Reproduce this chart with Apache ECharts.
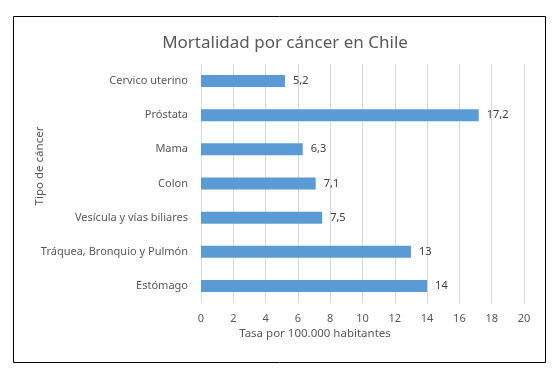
<!DOCTYPE html>
<html>
<head>
<meta charset="utf-8">
<script src="https://cdn.jsdelivr.net/npm/echarts@6/dist/echarts.min.js"></script>
<style>
  html, body { margin: 0; padding: 0; background: #fff; }
  #main { width: 558px; height: 377px; }
</style>
</head>
<body>
<div id="main"></div>
<script>
// datos
var categorias = ['Cervico uterino', 'Próstata', 'Mama', 'Colon', 'Vesícula y vías biliares', 'Tráquea, Bronquio y Pulmón', 'Estómago'];
var tasas = [5.2, 17.2, 6.3, 7.1, 7.5, 13, 14];
var titulo = 'Mortalidad por cáncer en Chile';
var tituloX = 'Tasa por 100.000 habitantes';
var tituloY = 'Tipo de cáncer';

var fuente = '"Noto Sans", sans-serif';
var gris = '#595959';

var chart = echarts.init(document.getElementById('main'));
chart.setOption({
  animation: false,
  textStyle: { fontFamily: fuente },
  title: [{
    text: titulo,
    left: 280,
    top: 30,
    textAlign: 'center',
    textStyle: { fontSize: 17, fontWeight: 'normal', color: gris, fontFamily: fuente }
  }, {
    text: tituloX,
    left: 310,
    top: 323,
    textAlign: 'center',
    textStyle: { fontSize: 11.5, fontWeight: 'normal', color: gris, fontFamily: fuente }
  }],
  graphic: [{
    type: 'rect',
    shape: { x: 13.5, y: 16.5, width: 532, height: 346 },
    style: { fill: 'none', stroke: '#000', lineWidth: 1 },
    silent: true
  }, {
    type: 'text',
    x: 40,
    y: 166,
    rotation: Math.PI / 2,
    style: {
      text: tituloY,
      fill: gris,
      font: '11.5px ' + fuente,
      textAlign: 'center',
      textVerticalAlign: 'middle'
    }
  }],
  grid: { left: 201, right: 34, top: 64, bottom: 74, containLabel: false },
  xAxis: {
    type: 'value',
    min: 0,
    max: 20,
    interval: 2,
    axisLine: { show: false },
    axisTick: { show: false },
    axisLabel: { color: gris, fontSize: 11, margin: 10 },
    splitLine: { show: true, lineStyle: { color: '#d9d9d9', width: 1 } }
  },
  yAxis: {
    type: 'category',
    inverse: true,
    data: categorias,
    axisLine: { show: false },
    axisTick: { show: false },
    axisLabel: { color: gris, fontSize: 11, margin: 13 },
    splitLine: { show: false }
  },
  series: [{
    type: 'bar',
    data: tasas,
    barWidth: 12,
    itemStyle: { color: '#5b9bd5' },
    label: {
      show: true,
      position: 'right',
      distance: 8,
      color: '#404040',
      fontSize: 11,
      formatter: function (p) { return String(p.value).replace('.', ','); }
    }
  }]
});
</script>
</body>
</html>
